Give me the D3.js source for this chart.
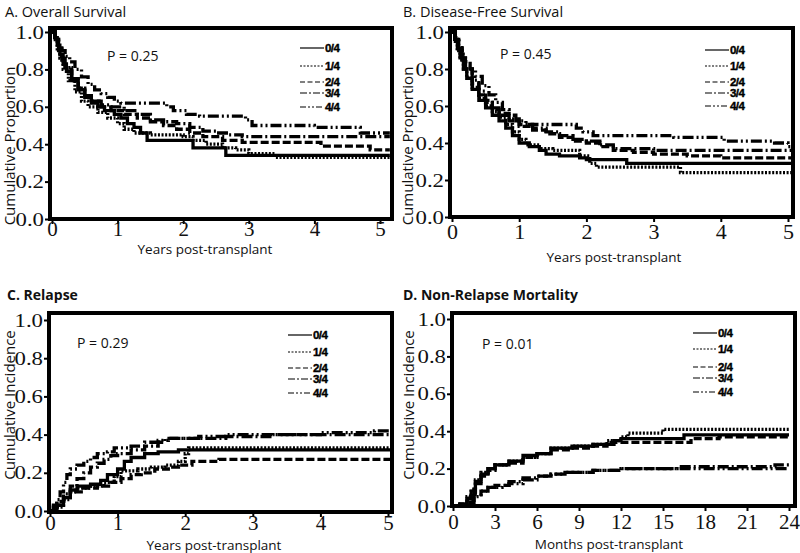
<!DOCTYPE html>
<html><head><meta charset="utf-8">
<script src="https://cdn.jsdelivr.net/npm/d3@7"></script>
<style>
html,body{margin:0;padding:0;background:#fff;}
svg{display:block;}
</style></head>
<body>
<svg id="chart" width="800" height="553"></svg>
<script>
// ---------------- DATA ----------------
const groups = ["0/4", "1/4", "2/4", "3/4", "4/4"];
const yTicks = [0, 0.2, 0.4, 0.6, 0.8, 1.0];
const yearTicks = [0, 1, 2, 3, 4, 5];
const monthTicks = [0, 3, 6, 9, 12, 15, 18, 21, 24];
const pValues = ["P = 0.25", "P = 0.45", "P = 0.29", "P = 0.01"];
const titles = ["A. Overall Survival", "B. Disease-Free Survival", "C. Relapse", "D. Non-Relapse Mortality"];

// A. Overall survival (years, proportion)
const os0 = [[0,1],[0.04,0.97],[0.08,0.93],[0.12,0.88],[0.17,0.83],[0.22,0.79],[0.3,0.74],[0.4,0.69],[0.5,0.65],[0.6,0.62],[0.7,0.6],[0.8,0.58],[0.95,0.56],[1.05,0.54],[1.15,0.51],[1.25,0.49],[1.35,0.46],[1.45,0.42],[2.15,0.38],[2.65,0.34],[5.15,0.34]];
const os1 = [[0,1],[0.04,0.96],[0.08,0.91],[0.12,0.86],[0.17,0.8],[0.25,0.74],[0.35,0.68],[0.45,0.63],[0.55,0.6],[0.7,0.57],[0.85,0.54],[1.0,0.51],[1.1,0.48],[1.25,0.46],[1.5,0.45],[2.0,0.44],[2.15,0.42],[2.35,0.4],[2.6,0.38],[2.8,0.37],[3.0,0.35],[3.4,0.33],[5.15,0.33]];
const os2 = [[0,1],[0.05,0.96],[0.1,0.9],[0.15,0.85],[0.2,0.81],[0.3,0.75],[0.4,0.7],[0.5,0.66],[0.6,0.63],[0.75,0.6],[0.9,0.58],[1.1,0.56],[1.3,0.54],[1.5,0.52],[1.7,0.5],[1.9,0.48],[2.1,0.46],[2.3,0.44],[2.6,0.42],[2.9,0.41],[4.1,0.39],[4.85,0.37],[5.15,0.37]];
const os3 = [[0,1],[0.05,0.96],[0.1,0.91],[0.15,0.86],[0.2,0.81],[0.3,0.75],[0.4,0.7],[0.5,0.66],[0.6,0.63],[0.75,0.61],[0.9,0.6],[1.1,0.58],[1.3,0.56],[1.5,0.53],[1.7,0.52],[1.9,0.51],[2.1,0.49],[2.3,0.47],[2.5,0.46],[2.7,0.45],[2.9,0.44],[5.15,0.44]];
const os4 = [[0,1],[0.05,0.97],[0.1,0.93],[0.15,0.9],[0.2,0.87],[0.27,0.84],[0.35,0.8],[0.45,0.76],[0.55,0.72],[0.65,0.69],[0.75,0.67],[0.85,0.65],[0.95,0.63],[1.05,0.62],[1.75,0.6],[1.85,0.58],[2.05,0.56],[2.25,0.55],[2.95,0.53],[3.05,0.5],[4.0,0.49],[4.7,0.46],[5.15,0.46]];

// B. Disease-free survival (years, proportion)
const dfs0 = [[0,1],[0.04,0.96],[0.08,0.91],[0.12,0.86],[0.17,0.8],[0.22,0.75],[0.3,0.69],[0.4,0.63],[0.5,0.59],[0.6,0.55],[0.7,0.52],[0.8,0.48],[0.9,0.44],[1.0,0.4],[1.15,0.38],[1.3,0.36],[1.4,0.34],[1.6,0.33],[1.9,0.32],[2.0,0.31],[2.6,0.29],[5.15,0.29]];
const dfs1 = [[0,1],[0.04,0.96],[0.08,0.9],[0.12,0.85],[0.17,0.8],[0.22,0.75],[0.3,0.7],[0.4,0.64],[0.5,0.6],[0.6,0.57],[0.7,0.54],[0.8,0.5],[0.9,0.46],[1.0,0.42],[1.1,0.39],[1.3,0.37],[1.5,0.36],[1.9,0.33],[2.05,0.29],[2.15,0.27],[3.4,0.24],[5.15,0.24]];
const dfs2 = [[0,1],[0.05,0.95],[0.1,0.9],[0.15,0.85],[0.2,0.8],[0.3,0.72],[0.4,0.66],[0.5,0.62],[0.6,0.58],[0.7,0.55],[0.85,0.52],[1.0,0.49],[1.2,0.47],[1.4,0.45],[1.6,0.43],[1.8,0.41],[2.0,0.4],[2.2,0.38],[2.4,0.36],[2.7,0.35],[3.0,0.34],[3.5,0.33],[4.0,0.32],[5.15,0.32]];
const dfs3 = [[0,1],[0.05,0.96],[0.1,0.91],[0.15,0.86],[0.2,0.81],[0.3,0.74],[0.4,0.68],[0.5,0.63],[0.6,0.59],[0.7,0.56],[0.85,0.53],[1.0,0.5],[1.2,0.48],[1.4,0.46],[1.6,0.44],[1.8,0.42],[2.0,0.41],[2.2,0.39],[2.4,0.37],[3.0,0.36],[5.15,0.36]];
const dfs4 = [[0,1],[0.05,0.97],[0.1,0.93],[0.15,0.88],[0.2,0.84],[0.27,0.8],[0.35,0.76],[0.45,0.71],[0.55,0.66],[0.65,0.62],[0.75,0.58],[0.85,0.55],[0.95,0.52],[1.1,0.5],[1.85,0.48],[1.95,0.46],[2.1,0.44],[3.3,0.43],[4.05,0.41],[4.8,0.4],[5.0,0.38],[5.15,0.38]];

// C. Relapse (years, cumulative incidence)
const rel0 = [[0,0],[0.1,0.03],[0.2,0.07],[0.3,0.11],[0.4,0.13],[0.6,0.14],[0.75,0.16],[0.85,0.19],[1.0,0.22],[1.1,0.26],[1.2,0.28],[1.4,0.3],[1.6,0.31],[1.9,0.32],[5.15,0.32]];
const rel1 = [[0,0],[0.1,0.02],[0.2,0.06],[0.3,0.1],[0.4,0.12],[0.6,0.13],[0.8,0.15],[0.95,0.18],[1.05,0.21],[1.3,0.22],[1.5,0.23],[1.7,0.24],[1.9,0.26],[2.0,0.3],[2.05,0.33],[5.15,0.33]];
const rel2 = [[0,0],[0.1,0.03],[0.2,0.07],[0.3,0.1],[0.5,0.12],[0.7,0.13],[0.9,0.15],[1.05,0.17],[1.2,0.19],[1.35,0.2],[1.55,0.22],[1.75,0.23],[1.9,0.24],[2.1,0.26],[2.5,0.27],[5.15,0.27]];
const rel3 = [[0,0],[0.05,0.02],[0.1,0.05],[0.2,0.09],[0.3,0.13],[0.4,0.17],[0.5,0.2],[0.6,0.23],[0.7,0.25],[0.8,0.27],[0.9,0.29],[1.0,0.3],[1.2,0.32],[1.4,0.34],[1.6,0.36],[1.7,0.38],[2.6,0.39],[3.3,0.4],[5.15,0.4]];
const rel4 = [[0,0],[0.05,0.03],[0.1,0.06],[0.15,0.1],[0.2,0.15],[0.25,0.19],[0.3,0.22],[0.4,0.24],[0.5,0.26],[0.6,0.28],[0.7,0.3],[0.85,0.31],[0.95,0.33],[1.2,0.34],[1.4,0.36],[1.6,0.37],[1.75,0.38],[2.2,0.39],[2.6,0.4],[4.0,0.41],[4.8,0.42],[5.15,0.42]];

// D. Non-relapse mortality (months, cumulative incidence)
const nrm0 = [[0,0],[0.5,0.01],[1.0,0.04],[1.3,0.08],[1.6,0.13],[2.0,0.17],[2.5,0.2],[3.0,0.22],[4.0,0.24],[5.0,0.27],[6.0,0.28],[7.0,0.31],[8.5,0.32],[10.0,0.33],[11.5,0.35],[12.0,0.36],[16.5,0.38],[24,0.38]];
const nrm1 = [[0,0],[0.5,0.01],[1.0,0.05],[1.3,0.09],[1.6,0.14],[2.0,0.18],[2.5,0.2],[3.0,0.22],[4.0,0.24],[5.0,0.26],[6.0,0.28],[7.0,0.31],[8.5,0.32],[10.0,0.33],[11.0,0.35],[12.0,0.37],[12.5,0.39],[15.0,0.41],[24,0.41]];
const nrm2 = [[0,0],[0.5,0.01],[1.0,0.04],[1.3,0.07],[1.6,0.12],[2.0,0.16],[2.5,0.19],[3.0,0.22],[4.0,0.23],[5.0,0.26],[6.0,0.28],[7.0,0.3],[8.5,0.31],[10.0,0.32],[11.0,0.34],[17.0,0.36],[19.0,0.37],[24,0.37]];
const nrm3 = [[0,0],[0.5,0.01],[1.0,0.02],[1.5,0.05],[2.0,0.08],[2.5,0.1],[3.0,0.11],[4.0,0.13],[5.0,0.15],[6.0,0.16],[7.0,0.17],[8.0,0.18],[10.0,0.19],[12.0,0.2],[16.0,0.21],[23.0,0.22],[24,0.22]];
const nrm4 = [[0,0],[0.5,0.01],[1.0,0.03],[1.5,0.06],[2.0,0.08],[2.5,0.1],[3.5,0.11],[4.0,0.12],[5.0,0.14],[6.0,0.16],[7.0,0.17],[8.0,0.18],[10.0,0.19],[12.0,0.2],[24,0.2]];

// ---------------- LAYOUT / STYLE ----------------
const dashes = [null, "2,1.6", "8,3", "11,3,2,3", "11,3,2,3,2,3"];
const legendDashes = [null, "2,1.5", "5,2.5", "7,2,2,2", "6,2,2,2,2,2"];

const panels = [
  { title: titles[0], bold: false, tx: 5, ty: 17, ylab: "Cumulative Proportion", ylx: 15, yly: 146,
    xlab: "Years post-transplant", xlx: 205, xly: 254, p: pValues[0], px: 107, py: 61,
    frame: [50, 28, 392, 219], xr: [52, 380], yr: [219, 32], dom: [0, 5], ticks: yearTicks, xpad: -3, xfs: 21,
    series: [os0, os1, os2, os3, os4], lx: 300, lrows: [48, 66, 82, 93, 107] },
  { title: titles[1], bold: false, tx: 403, ty: 17, ylab: "Cumulative Proportion", ylx: 413, yly: 146,
    xlab: "Years post-transplant", xlx: 614, xly: 262, p: pValues[1], px: 500, py: 59,
    frame: [450, 28, 793, 217], xr: [452, 788], yr: [217, 32], dom: [0, 5], ticks: yearTicks, xpad: 1, xfs: 22,
    series: [dfs0, dfs1, dfs2, dfs3, dfs4], lx: 705, lrows: [50, 66, 82, 93, 106] },
  { title: titles[2], bold: true, tx: 7, ty: 300, ylab: "Cumulative Incidence", ylx: 15, yly: 405,
    xlab: "Years post-transplant", xlx: 214, xly: 550, p: pValues[2], px: 77, py: 348,
    frame: [49, 313, 392, 512], xr: [50, 388], yr: [511, 320], dom: [0, 5], ticks: yearTicks, xpad: -2, xfs: 21,
    series: [rel0, rel1, rel2, rel3, rel4], lx: 288, lrows: [335, 352, 368, 379, 393] },
  { title: titles[3], bold: true, tx: 403, ty: 300, ylab: "Cumulative Incidence", ylx: 414, yly: 405,
    xlab: "Months post-transplant", xlx: 609, xly: 549, p: pValues[3], px: 482, py: 349,
    frame: [452, 313, 795, 506], xr: [453, 789], yr: [506, 319], dom: [0, 24], ticks: monthTicks, xpad: 3, xfs: 21,
    series: [nrm0, nrm1, nrm2, nrm3, nrm4], lx: 693, lrows: [333, 349, 367, 378, 392] }
];

const sans = "'Open Sans', 'Noto Sans', sans-serif";
const serif = "'Liberation Serif', 'DejaVu Serif', serif";
const yLabelStretch = 1.2;

const svg = d3.select("#chart");

panels.forEach(P => {
  const g = svg.append("g");
  const x = d3.scaleLinear().domain(P.dom).range(P.xr);
  const y = d3.scaleLinear().domain([0, 1]).range(P.yr);
  const [fx1, fy1, fx2, fy2] = P.frame;

  // title
  g.append("text").attr("x", P.tx).attr("y", P.ty)
    .attr("font-family", sans).attr("font-size", P.bold ? 14 : 14.5)
    .attr("font-weight", P.bold ? 700 : 400).attr("fill", "#111")
    .text(P.title);

  // curves
  const clipId = "clip" + fx1 + "_" + fy1;
  g.append("clipPath").attr("id", clipId).append("rect")
    .attr("x", fx1).attr("y", fy1).attr("width", fx2 - fx1).attr("height", fy2 - fy1);
  const line = d3.line().x(d => x(d[0])).y(d => y(d[1])).curve(d3.curveStepAfter);
  const cg = g.append("g").attr("clip-path", `url(#${clipId})`);
  P.series.forEach((s, i) => {
    cg.append("path").datum(s).attr("d", line)
      .attr("fill", "none").attr("stroke", "#000").attr("stroke-width", 3.3)
      .attr("stroke-dasharray", dashes[i]);
  });

  // frame
  g.append("rect").attr("x", fx1).attr("y", fy1)
    .attr("width", fx2 - fx1).attr("height", fy2 - fy1)
    .attr("fill", "none").attr("stroke", "#000").attr("stroke-width", 4);

  // y axis
  const ya = g.append("g").attr("transform", `translate(${fx1 - 2},0)`)
    .call(d3.axisLeft(y).tickValues(yTicks).tickFormat(d3.format(".1f")).tickSize(3).tickPadding(1));
  ya.select(".domain").remove();
  ya.selectAll(".tick line").attr("stroke", "#000").attr("stroke-width", 2);
  ya.selectAll(".tick text").attr("font-family", serif).attr("font-size", 19).attr("fill", "#111")
    .attr("x", -4 / yLabelStretch).attr("transform", `scale(${yLabelStretch},1)`);

  // x axis
  const xa = g.append("g").attr("transform", `translate(0,${fy2 + 2})`)
    .call(d3.axisBottom(x).tickValues(P.ticks).tickFormat(d3.format("d")).tickSize(3).tickPadding(P.xpad));
  xa.select(".domain").remove();
  xa.selectAll(".tick line").attr("stroke", "#000").attr("stroke-width", 2);
  xa.selectAll(".tick text").attr("font-family", serif).attr("font-size", P.xfs).attr("fill", "#111");

  // axis titles
  g.append("text").attr("x", P.xlx).attr("y", P.xly).attr("text-anchor", "middle")
    .attr("font-family", sans).attr("font-size", 13.5).attr("fill", "#111").text(P.xlab);
  g.append("text").attr("transform", `translate(${P.ylx},${P.yly}) rotate(-90)`)
    .attr("text-anchor", "middle").attr("font-family", sans).attr("font-size", 15)
    .attr("fill", "#111").text(P.ylab);

  // P value
  g.append("text").attr("x", P.px).attr("y", P.py)
    .attr("font-family", sans).attr("font-size", 14).attr("fill", "#111").text(P.p);

  // legend
  groups.forEach((grp, i) => {
    const ly = P.lrows[i];
    g.append("line").attr("x1", P.lx).attr("x2", P.lx + 24).attr("y1", ly).attr("y2", ly)
      .attr("stroke", "#000").attr("stroke-width", 1.2).attr("stroke-dasharray", legendDashes[i]);
    g.append("text").attr("x", P.lx + 25).attr("y", ly).attr("dy", "0.36em")
      .attr("font-family", "'Liberation Sans', Arial, sans-serif").attr("font-weight", 700)
      .attr("font-size", 11.5).attr("letter-spacing", -0.6).attr("fill", "#000")
      .attr("stroke", "#000").attr("stroke-width", 0.4).text(grp);
  });
});
</script>
</body></html>
